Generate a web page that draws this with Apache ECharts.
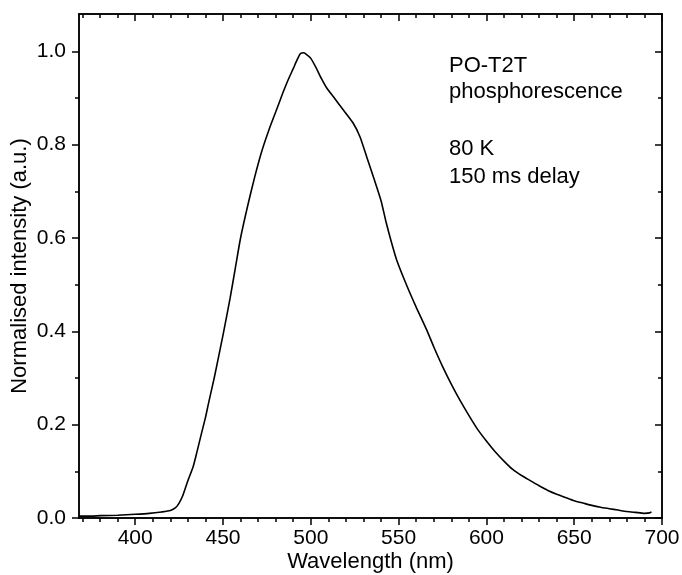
<!DOCTYPE html>
<html>
<head>
<meta charset="utf-8">
<script src="https://cdn.jsdelivr.net/npm/echarts@6/dist/echarts.min.js"></script>
<style>
  html, body { margin: 0; padding: 0; background: #fff; }
  #chartdiv { width: 682px; height: 575px; }
</style>
</head>
<body>
<div id="chartdiv"></div>
<script>
// spectrum
const wavelength = [
  368, 375, 380, 390, 400, 408, 415, 420, 423, 425, 427, 430, 433, 435, 438, 440,
  442, 445, 448, 450, 454, 457, 460, 464, 468, 472, 476, 480, 484, 487, 490, 492, 494,
  496, 498, 500, 503, 506, 509, 513, 518, 524, 528, 532, 536, 540, 543, 546, 549,
  555, 560, 566, 570, 575, 580, 585, 590, 595, 600, 605, 610, 615, 620, 625, 630,
  635, 640, 645, 650, 655, 660, 665, 670, 675, 680, 685, 690, 693, 694
];
const intensity = [
  0.004, 0.004, 0.005, 0.006, 0.008, 0.010, 0.013, 0.016, 0.022, 0.032, 0.047, 0.080, 0.110, 0.139, 0.185, 0.215,
  0.250, 0.300, 0.355, 0.392, 0.470, 0.535, 0.600, 0.668, 0.730, 0.785, 0.830, 0.870, 0.910, 0.938, 0.963, 0.980, 0.995,
  0.997, 0.992, 0.985, 0.965, 0.942, 0.922, 0.902, 0.877, 0.847, 0.817, 0.772, 0.727, 0.680, 0.632, 0.590, 0.552,
  0.495, 0.452, 0.403, 0.367, 0.325, 0.287, 0.252, 0.220, 0.190, 0.165, 0.142, 0.122, 0.104, 0.091, 0.080, 0.069,
  0.059, 0.051, 0.044, 0.037, 0.032, 0.027, 0.023, 0.020, 0.017, 0.014, 0.012, 0.010, 0.011, 0.013
];

const xMajor = [400, 450, 500, 550, 600, 650, 700];
const xMinor = [370, 380, 390, 410, 420, 430, 440, 460, 470, 480, 490, 510, 520, 530, 540,
                560, 570, 580, 590, 610, 620, 630, 640, 660, 670, 680, 690];
const yMajor = [0, 0.2, 0.4, 0.6, 0.8, 1.0];
const yMinor = [0.1, 0.3, 0.5, 0.7, 0.9];

const noteLines = ["PO-T2T", "phosphorescence", "80 K", "150 ms delay"];
const noteY = [67, 93, 150, 178];

const FONT = "Liberation Sans, Arial, sans-serif";
const X_RANGE = [368, 700];
const Y_RANGE = [0, 1.08];

function makeAxis(kind, pos, ticks, len, inside, withLabels) {
  const range = kind === "x" ? X_RANGE : Y_RANGE;
  const ax = {
    type: "value",
    position: pos,
    min: range[0],
    max: range[1],
    axisLine: { show: true, onZero: false, lineStyle: { color: "#000", width: 1.5 } },
    axisTick: {
      show: true,
      inside: inside,
      length: len,
      customValues: ticks,
      lineStyle: { color: "#000", width: 1.5 }
    },
    axisLabel: { show: false },
    splitLine: { show: false }
  };
  if (withLabels) {
    ax.axisLabel = {
      show: true,
      customValues: ticks,
      color: "#000",
      fontFamily: FONT,
      fontSize: 21,
      margin: kind === "x" ? 10 : 13,
      formatter: v => kind === "x" ? String(v) : v.toFixed(1)
    };
  }
  return ax;
}

const xAxes = [
  makeAxis("x", "bottom", xMajor, 7, false, true),
  makeAxis("x", "bottom", xMinor, 4, false, false),
  makeAxis("x", "top", xMajor, 7, true, false),
  makeAxis("x", "top", xMinor, 4, true, false)
];
xAxes[0].name = "Wavelength (nm)";
xAxes[0].nameLocation = "middle";
xAxes[0].nameGap = 33;
xAxes[0].nameMoveOverlap = false;
xAxes[0].nameTextStyle = { color: "#000", fontFamily: FONT, fontSize: 22 };

const yAxes = [
  makeAxis("y", "left", yMajor, 7, false, true),
  makeAxis("y", "left", yMinor, 4, false, false),
  makeAxis("y", "right", yMajor, 7, true, false),
  makeAxis("y", "right", yMinor, 4, true, false)
];
yAxes[0].name = "Normalised intensity (a.u.)";
yAxes[0].nameLocation = "middle";
yAxes[0].nameGap = 48;
yAxes[0].nameMoveOverlap = false;
yAxes[0].nameTextStyle = { color: "#000", fontFamily: FONT, fontSize: 22 };

const chart = echarts.init(document.getElementById("chartdiv"));

chart.setOption({
  backgroundColor: "#fff",
  animation: false,
  grid: { left: 79, right: 20, top: 14, bottom: 57, containLabel: false, outerBoundsMode: "none" },
  xAxis: xAxes,
  yAxis: yAxes,
  graphic: noteLines.map((t, i) => ({
    type: "text",
    left: 449,
    top: noteY[i] - 12,
    style: { text: t, fill: "#000", font: "22px " + FONT }
  })),
  series: [
    {
      type: "line",
      xAxisIndex: 0,
      yAxisIndex: 0,
      data: wavelength.map((w, i) => [w, intensity[i]]),
      showSymbol: false,
      smooth: 0.2,
      lineStyle: { color: "#000", width: 1.6 }
    }
  ]
});
</script>
</body>
</html>
